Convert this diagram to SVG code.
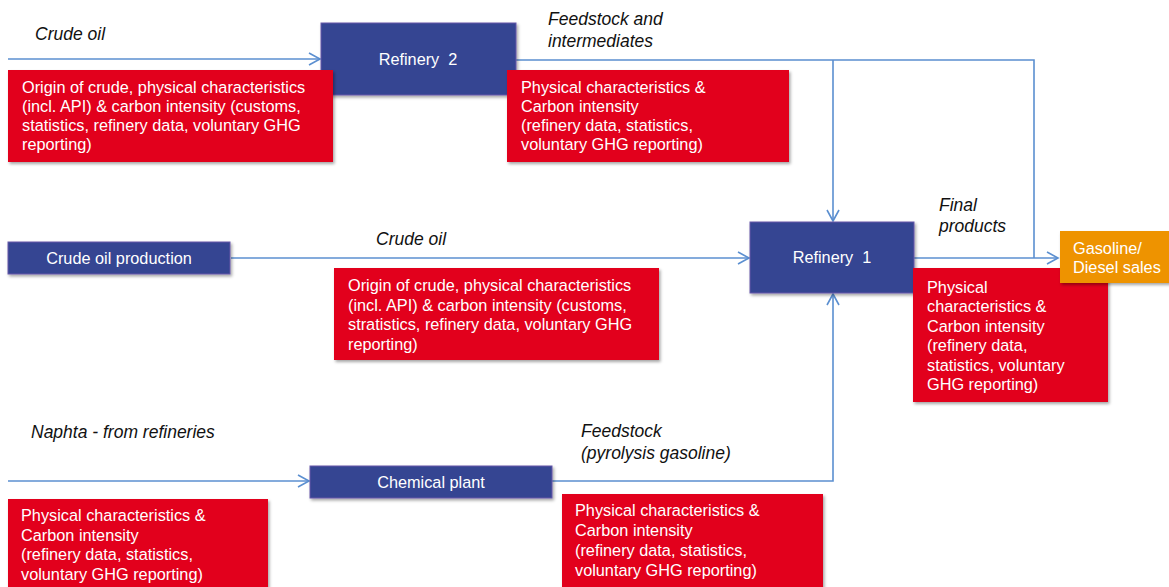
<svg xmlns="http://www.w3.org/2000/svg" width="1169" height="587" viewBox="0 0 1169 587">
<defs>
<filter id="sh" x="-10%" y="-10%" width="120%" height="130%"><feDropShadow dx="1.5" dy="2" stdDeviation="1.5" flood-color="#000" flood-opacity="0.35"/></filter>
<marker id="arr" markerWidth="14" markerHeight="14" refX="12" refY="7" orient="auto" markerUnits="userSpaceOnUse"><path d="M1,1 L12,7 L1,13" fill="none" stroke="#5B8FD0" stroke-width="1.6"/></marker>
</defs>
<style>
.bg{fill:#fff}
.blue{fill:#344592;stroke:#6659A8;stroke-width:1;filter:url(#sh)}
.red{fill:#E2001A;filter:url(#sh)}
.orange{fill:#EE9300;filter:url(#sh)}
.t{font-family:"Liberation Sans",Arial,sans-serif;font-size:16.3px;fill:#fff}
.c{text-anchor:middle}
.lab{font-family:"Liberation Sans",Arial,sans-serif;font-size:17.5px;font-style:italic;fill:#111}
.ln{fill:none;stroke:#5B8FD0;stroke-width:1.6}
</style>
<rect class="bg" x="0" y="0" width="1169" height="587"/>
<g id="connectors">
<path class="ln" d="M8,59 L320,59" marker-end="url(#arr)"/>
<path class="ln" d="M516,60 L1034,60 L1034,258"/>
<path class="ln" d="M833,60 L833,221" marker-end="url(#arr)"/>
<path class="ln" d="M231,258 L749,258" marker-end="url(#arr)"/>
<path class="ln" d="M914,258 L1058,258" marker-end="url(#arr)"/>
<path class="ln" d="M8,481 L309,481" marker-end="url(#arr)"/>
<path class="ln" d="M552,481 L833,481 L833,294" marker-end="url(#arr)"/>
</g>
<g id="labels">
<text class="lab" x="35" y="40">Crude oil</text>
<text class="lab" x="548" y="25">Feedstock and</text>
<text class="lab" x="548" y="47">intermediates</text>
<text class="lab" x="376" y="245">Crude oil</text>
<text class="lab" x="939" y="211">Final</text>
<text class="lab" x="939" y="232">products</text>
<text class="lab" x="31" y="438">Naphta - from refineries</text>
<text class="lab" x="581" y="437">Feedstock</text>
<text class="lab" x="581" y="459">(pyrolysis gasoline)</text>
</g>
<g id="refinery2">
<rect class="blue" x="321" y="23" width="195" height="72"/>
<text class="t c" x="418" y="65" xml:space="preserve">Refinery  2</text>
</g>
<g id="info-crude-top">
<rect class="red" x="8" y="70" width="325" height="92"/>
<text class="t" x="22" y="93">Origin of crude, physical characteristics</text>
<text class="t" x="22" y="112">(incl. API) &amp; carbon intensity (customs,</text>
<text class="t" x="22" y="131">statistics, refinery data, voluntary GHG</text>
<text class="t" x="22" y="150">reporting)</text>
</g>
<g id="info-feedstock">
<rect class="red" x="507" y="70" width="282" height="92"/>
<text class="t" x="521" y="93">Physical characteristics &amp;</text>
<text class="t" x="521" y="112">Carbon intensity</text>
<text class="t" x="521" y="131">(refinery data, statistics,</text>
<text class="t" x="521" y="150">voluntary GHG reporting)</text>
</g>
<g id="crude-production">
<rect class="blue" x="8" y="242" width="222" height="32"/>
<text class="t c" x="119" y="264">Crude oil production</text>
</g>
<g id="info-crude-mid">
<rect class="red" x="334" y="268" width="325" height="92"/>
<text class="t" x="348" y="291">Origin of crude, physical characteristics</text>
<text class="t" x="348" y="311">(incl. API) &amp; carbon intensity (customs,</text>
<text class="t" x="348" y="330">stratistics, refinery data, voluntary GHG</text>
<text class="t" x="348" y="350">reporting)</text>
</g>
<g id="refinery1">
<rect class="blue" x="750" y="222" width="164" height="71"/>
<text class="t c" x="832" y="263" xml:space="preserve">Refinery  1</text>
</g>
<g id="info-final">
<rect class="red" x="913" y="268" width="195" height="134"/>
<text class="t" x="927" y="293">Physical</text>
<text class="t" x="927" y="312">characteristics &amp;</text>
<text class="t" x="927" y="332">Carbon intensity</text>
<text class="t" x="927" y="351">(refinery data,</text>
<text class="t" x="927" y="371">statistics, voluntary</text>
<text class="t" x="927" y="390">GHG reporting)</text>
</g>
<g id="gasoline">
<rect class="orange" x="1060" y="231" width="112" height="52"/>
<text class="t" x="1073" y="254">Gasoline/</text>
<text class="t" x="1073" y="273">Diesel sales</text>
</g>
<g id="chemical-plant">
<rect class="blue" x="310" y="466" width="242" height="32"/>
<text class="t c" x="431" y="488">Chemical plant</text>
</g>
<g id="info-naphta">
<rect class="red" x="8" y="499" width="260" height="92"/>
<text class="t" x="21" y="521">Physical characteristics &amp;</text>
<text class="t" x="21" y="541">Carbon intensity</text>
<text class="t" x="21" y="560">(refinery data, statistics,</text>
<text class="t" x="21" y="580">voluntary GHG reporting)</text>
</g>
<g id="info-pyrolysis">
<rect class="red" x="562" y="494" width="261" height="97"/>
<text class="t" x="575" y="516">Physical characteristics &amp;</text>
<text class="t" x="575" y="536">Carbon intensity</text>
<text class="t" x="575" y="556">(refinery data, statistics,</text>
<text class="t" x="575" y="576">voluntary GHG reporting)</text>
</g>
</svg>
